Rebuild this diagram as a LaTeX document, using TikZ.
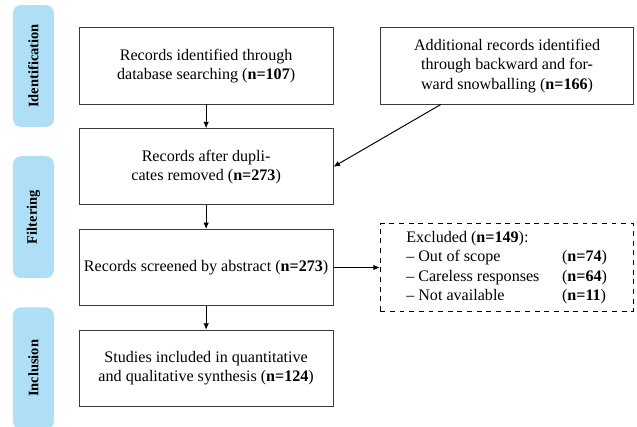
\documentclass[tikz,border=0pt]{standalone}
\usepackage{fontspec}
\setmainfont{Liberation Serif}
\usepackage{tikz}
\usetikzlibrary{positioning, shapes, arrows.meta}
\definecolor{faseAzul}{HTML}{AEDFF7}
\definecolor{bordeGris}{HTML}{3A3A3A}

\begin{document}
\begin{tikzpicture}[
  stage/.style={fill=faseAzul, rounded corners=5pt, rotate=90,
                minimum width=2.66cm, minimum height=0.895cm, inner sep=1pt,
                font=\small\bfseries},
  recbox/.style={draw=bordeGris, line width=0.6pt, align=center,
                 minimum width=5.54cm, minimum height=1.66cm, inner xsep=1pt},
  exclbox/.style={draw=black, dashed, line width=0.6pt,
                  minimum width=5.52cm, minimum height=1.92cm, inner sep=0pt},
  flow/.style={-{Latex[length=4pt, width=3.5pt]}, black, line width=0.6pt}
]
  \useasboundingbox (0,0) rectangle (13.906,-9.321);

  \node[stage] (idlab) at (0.73, -1.44) {Identification};
  \node[stage] (filtlab) at (0.73, -4.74) {Filtering};
  \node[stage] (inclab) at (0.73, -8.04) {Inclusion};

  \node[recbox] (rec) at (4.50, -1.44) {Records identified through\\database searching (\textbf{n=107})};
  \node[recbox] (dup) at (4.50, -3.64) {Records after dupli-\\cates removed (\textbf{n=273})};
  \node[recbox] (scr) at (4.50, -5.84) {Records screened by abstract (\textbf{n=273})};
  \node[recbox] (inc) at (4.50, -8.04) {Studies included in quantitative\\and qualitative synthesis (\textbf{n=124})};

  \node[recbox] (snow) at (11.07, -1.44) {Additional records identified\\through backward and for-\\ward snowballing (\textbf{n=166})};

  \node[exclbox] (excl) at (11.06, -5.84) {%
    \begin{tabular}{@{}l@{\hspace{1.4em}}l@{}}
      \multicolumn{2}{@{}l}{Excluded (\textbf{n=149}):}\\
      -- Out of scope & (\textbf{n=74})\\
      -- Careless responses & (\textbf{n=64})\\
      -- Not available & (\textbf{n=11})
    \end{tabular}};

  \foreach \a/\b in {rec/dup, dup/scr, scr/inc}{
    \draw[flow] (\a) -- (\b);
  }
  \draw[flow] (snow) -- (dup.east);
  \draw[flow] (scr) -- (excl);
\end{tikzpicture}
\end{document}
